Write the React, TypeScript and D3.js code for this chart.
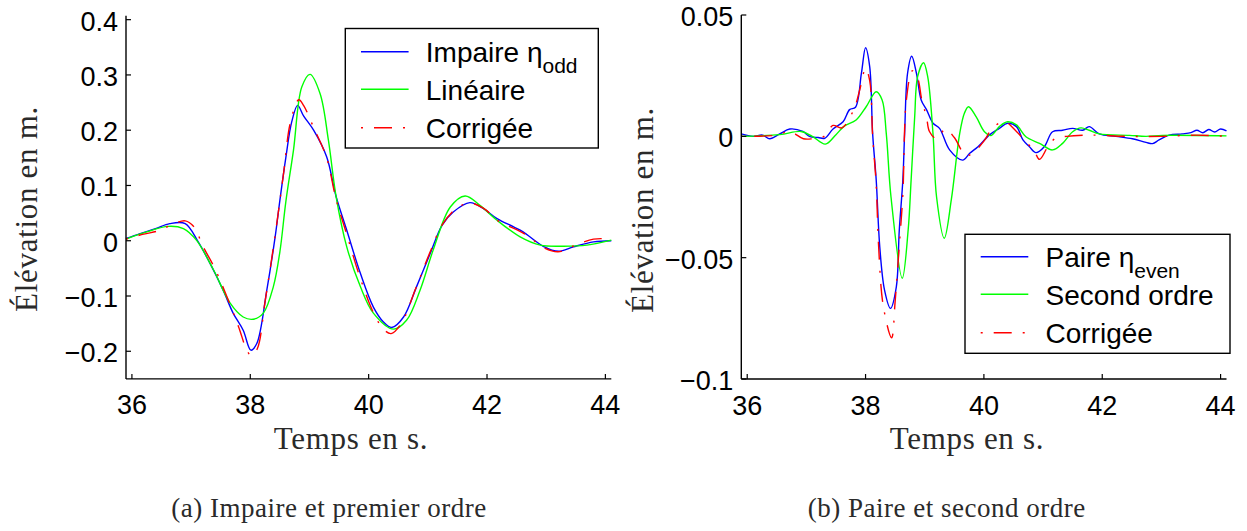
import React from 'react';
import * as d3 from 'd3';

// ---------- shared axis data ----------
const xTicks = [36, 38, 40, 42, 44];
const xDomain: [number, number] = [35.9, 44.1];

// ---------- panel (a) ----------
const leftYTicks = [-0.2, -0.1, 0, 0.1, 0.2, 0.3, 0.4];
const leftYTickLabels = ['−0.2', '−0.1', '0', '0.1', '0.2', '0.3', '0.4'];
const leftYDomain: [number, number] = [-0.25, 0.407];

const impaireOdd: [number, number][] = [
  [35.9, 0.004], [36.14, 0.013], [36.4, 0.022], [36.64, 0.031], [36.9, 0.031], [37.12, -0.002],
  [37.32, -0.041], [37.54, -0.089], [37.71, -0.131], [37.88, -0.162], [38.01, -0.198], [38.11, -0.186],
  [38.28, -0.089], [38.42, 0.007], [38.5, 0.073], [38.6, 0.15], [38.7, 0.215], [38.8, 0.245],
  [38.9, 0.226], [39.07, 0.2], [39.29, 0.152], [39.45, 0.08], [39.63, 0.019], [39.86, -0.059],
  [40.08, -0.12], [40.25, -0.147], [40.39, -0.157], [40.59, -0.138], [40.81, -0.083], [41.04, -0.023],
  [41.24, 0.028], [41.43, 0.052], [41.71, 0.069], [41.94, 0.058], [42.17, 0.04], [42.45, 0.025],
  [42.61, 0.016], [42.95, -0.01], [43.21, -0.019], [43.46, -0.011], [43.8, -0.002], [44.1, 0.0],
];
const lineaire: [number, number][] = [
  [35.9, 0.003], [36.25, 0.016], [36.61, 0.026], [36.87, 0.022], [37.09, 0.001], [37.38, -0.053],
  [37.66, -0.113], [37.88, -0.138], [38.05, -0.142], [38.22, -0.131], [38.39, -0.083], [38.5, -0.02],
  [38.6, 0.07], [38.73, 0.164], [38.87, 0.278], [39.01, 0.301], [39.18, 0.266], [39.32, 0.182],
  [39.45, 0.08], [39.63, -0.011], [39.86, -0.083], [40.08, -0.131], [40.42, -0.16], [40.64, -0.144],
  [40.87, -0.089], [41.09, -0.017], [41.38, 0.061], [41.63, 0.081], [41.88, 0.064], [42.17, 0.037],
  [42.56, 0.007], [42.9, -0.008], [43.29, -0.01], [43.69, -0.008], [44.1, 0.001],
];
const corrigeeOdd: [number, number][] = [
  [35.9, 0.003], [36.2, 0.012], [36.45, 0.018], [36.7, 0.03], [36.9, 0.036], [37.05, 0.025],
  [37.2, -0.01], [37.4, -0.05], [37.6, -0.1], [37.8, -0.155], [37.95, -0.2], [38.02, -0.208],
  [38.12, -0.195], [38.25, -0.11], [38.42, 0.01], [38.56, 0.12], [38.68, 0.215], [38.82, 0.255],
  [38.9, 0.245], [39.07, 0.205], [39.29, 0.15], [39.45, 0.075], [39.62, 0.015], [39.85, -0.065],
  [40.08, -0.13], [40.25, -0.16], [40.38, -0.168], [40.55, -0.15], [40.8, -0.085], [41.04, -0.02],
  [41.25, 0.03], [41.5, 0.06], [41.72, 0.068], [41.95, 0.058], [42.2, 0.035], [42.5, 0.02],
  [42.7, 0.008], [42.95, -0.012], [43.2, -0.02], [43.45, -0.01], [43.8, 0.003], [44.1, 0.003],
];

// ---------- panel (b) ----------
const rightYTicks = [-0.1, -0.05, 0, 0.05];
const rightYTickLabels = ['−0.1', '−0.05', '0', '0.05'];
const rightYDomain: [number, number] = [-0.1, 0.05];

const paireEven: [number, number][] = [
  [35.9, 0.001], [36.1, 0.0], [36.26, 0.0005], [36.38, -0.001], [36.55, 0.001], [36.72, 0.003],
  [36.94, 0.002], [37.05, 0.0], [37.2, -0.0005], [37.31, -0.0008], [37.45, 0.003], [37.62, 0.006],
  [37.73, 0.011], [37.83, 0.012], [37.93, 0.026], [38.0, 0.0365], [38.07, 0.0287], [38.12, 0.001],
  [38.18, -0.018], [38.24, -0.0455], [38.32, -0.0633], [38.42, -0.0709], [38.52, -0.062], [38.57, -0.0386],
  [38.63, -0.018], [38.66, 0.001], [38.71, 0.026], [38.78, 0.033], [38.86, 0.026], [38.94, 0.015],
  [39.03, 0.011], [39.14, 0.0054], [39.25, 0.0033], [39.42, -0.0056], [39.64, -0.0098], [39.76, -0.007],
  [39.9, -0.0043], [40.09, 0.0005], [40.26, 0.0033], [40.4, 0.0054], [40.55, 0.004], [40.66, -0.0015],
  [40.77, -0.0043], [40.88, -0.0067], [41.02, -0.0043], [41.16, 0.0019], [41.33, 0.0025], [41.5, 0.0033],
  [41.67, 0.0025], [41.78, 0.004], [41.95, 0.001], [42.23, 0.0], [42.51, -0.001], [42.74, -0.0025],
  [42.85, -0.003], [42.96, -0.0015], [43.13, 0.0005], [43.35, 0.001], [43.5, 0.0015], [43.6, 0.0025],
  [43.7, 0.0015], [43.8, 0.0028], [43.9, 0.0018], [44.0, 0.003], [44.1, 0.0022],
];
const secondOrdre: [number, number][] = [
  [35.9, 0.0], [36.55, 0.0007], [36.91, 0.002], [37.1, 0.0], [37.32, -0.0032], [37.5, 0.0007],
  [37.64, 0.0042], [37.84, 0.0067], [38.01, 0.0122], [38.18, 0.0184], [38.28, 0.015], [38.35, 0.0012],
  [38.43, -0.025], [38.62, -0.0585], [38.72, -0.0386], [38.77, -0.018], [38.83, 0.008], [38.88, 0.0246],
  [38.98, 0.0303], [39.05, 0.0246], [39.14, 0.001], [39.2, -0.025], [39.33, -0.042], [39.45, -0.026],
  [39.59, 0.001], [39.67, 0.0095], [39.74, 0.0122], [39.87, 0.008], [40.01, 0.0019], [40.12, 0.0003],
  [40.26, 0.004], [40.4, 0.006], [40.55, 0.0047], [40.71, -0.0002], [40.94, -0.0029], [41.16, -0.0056],
  [41.33, -0.0029], [41.5, 0.0019], [41.64, 0.0035], [41.78, 0.0025], [41.95, 0.001], [42.46, 0.0004],
  [42.74, 0.0], [43.02, 0.0004], [44.1, 0.0002],
];
const corrigeeEven: [number, number][] = [
  [35.9, 0.0], [36.5, 0.0005], [36.72, 0.002], [36.95, -0.001], [37.1, -0.001], [37.3, 0.0],
  [37.45, 0.0045], [37.6, 0.0035], [37.8, 0.011], [37.9, 0.019], [38.0, 0.028], [38.07, 0.023],
  [38.12, 0.0], [38.18, -0.02], [38.22, -0.045], [38.3, -0.07], [38.44, -0.083], [38.5, -0.068],
  [38.57, -0.045], [38.63, -0.024], [38.69, 0.015], [38.79, 0.027], [38.88, 0.024], [38.95, 0.015],
  [39.03, 0.008], [39.08, 0.002], [39.2, -0.001], [39.35, 0.003], [39.5, -0.0005], [39.7, -0.008],
  [39.85, -0.006], [40.0, -0.002], [40.15, 0.0035], [40.35, 0.006], [40.55, 0.002], [40.7, -0.002],
  [40.85, -0.006], [40.94, -0.0095], [41.08, -0.0043], [41.2, -0.001], [41.4, 0.0], [41.8, 0.0005],
  [42.4, 0.0], [43.0, 0.0], [43.6, 0.0005], [44.1, 0.0],
];

// ---------- text ----------
const xAxisLabel = 'Temps en s.';
const yAxisLabel = 'Élévation en m.';
const captionA = '(a) Impaire et premier ordre';
const captionB = '(b) Paire et second ordre';
const legendA = [
  { main: 'Impaire η', sub: 'odd' },
  { main: 'Linéaire', sub: '' },
  { main: 'Corrigée', sub: '' },
];
const legendB = [
  { main: 'Paire η', sub: 'even' },
  { main: 'Second ordre', sub: '' },
  { main: 'Corrigée', sub: '' },
];

const SANS = '"Liberation Sans", Arial, Helvetica, sans-serif';
const SERIF = '"Liberation Serif", "Times New Roman", serif';
const BLUE = '#0000ff';
const GREEN = '#00ff00';
const RED = '#ff0000';
const DASHDOT = '2,11,18,11';
const styles = [
  { color: BLUE, dash: undefined as string | undefined },
  { color: GREEN, dash: undefined as string | undefined },
  { color: RED, dash: DASHDOT },
];

type PanelProps = {
  x0: number; x1: number; yTop: number; yBottom: number;
  yDomain: [number, number]; yTicks: number[]; yTickLabels: string[];
  series: [number, number][][];
  legend: { main: string; sub: string }[];
  lx: number; ly: number; lw: number; lh: number; rowOffsets: number[];
  xLabelX: number; yLabelX: number; yLabelY: number;
  caption: string; captionX: number;
};

function Panel(p: PanelProps) {
  const x = d3.scaleLinear().domain(xDomain).range([p.x0, p.x1]);
  const y = d3.scaleLinear().domain(p.yDomain).range([p.yBottom, p.yTop]);
  const line = d3
    .line<[number, number]>()
    .x((d) => x(d[0]))
    .y((d) => y(d[1]))
    .curve(d3.curveCatmullRom.alpha(0.5));
  const tickLen = 5;
  return (
    <g>
      {p.series.map((s, i) => (
        <path
          key={i}
          d={line(s) || ''}
          fill="none"
          stroke={styles[i].color}
          strokeWidth={1.4}
          strokeDasharray={styles[i].dash}
        />
      ))}
      {/* axes */}
      <line x1={p.x0} x2={p.x0} y1={p.yTop} y2={p.yBottom} stroke="#000" strokeWidth={1.4} />
      <line x1={p.x0} x2={p.x1} y1={p.yBottom} y2={p.yBottom} stroke="#000" strokeWidth={1.4} />
      {p.yTicks.map((t, i) => (
        <g key={'y' + i}>
          <line x1={p.x0} x2={p.x0 + tickLen} y1={y(t)} y2={y(t)} stroke="#000" strokeWidth={1.2} />
          <text
            x={p.x0 - 8}
            y={y(t) + 11}
            textAnchor="end"
            fontFamily={SANS}
            fontSize={27}
            fill="#000"
          >
            {p.yTickLabels[i]}
          </text>
        </g>
      ))}
      {xTicks.map((t, i) => (
        <g key={'x' + i}>
          <line x1={x(t)} x2={x(t)} y1={p.yBottom} y2={p.yBottom - tickLen} stroke="#000" strokeWidth={1.2} />
          <text x={x(t)} y={p.yBottom + 35.5} textAnchor="middle" fontFamily={SANS} fontSize={27} fill="#000">
            {t}
          </text>
        </g>
      ))}
      {/* axis labels */}
      <text
        x={p.xLabelX}
        y={448.5}
        textAnchor="middle"
        fontFamily={SERIF}
        fontSize={31}
        letterSpacing={0.7}
        fill="#2a2a2a"
      >
        {xAxisLabel}
      </text>
      <text
        transform={`translate(${p.yLabelX},${p.yLabelY}) rotate(-90)`}
        textAnchor="middle"
        fontFamily={SERIF}
        fontSize={31}
        letterSpacing={0.7}
        fill="#2a2a2a"
      >
        {yAxisLabel}
      </text>
      {/* legend */}
      <rect x={p.lx} y={p.ly} width={p.lw} height={p.lh} fill="#fff" stroke="#000" strokeWidth={1.4} />
      {p.legend.map((e, i) => {
        const ry = p.ly + p.rowOffsets[i];
        return (
          <g key={'l' + i}>
            <line
              x1={p.lx + 15.7}
              x2={p.lx + 63.3}
              y1={ry}
              y2={ry}
              stroke={styles[i].color}
              strokeWidth={1.4}
              strokeDasharray={styles[i].dash}
            />
            <text x={p.lx + 80.5} y={ry + 10.5} fontFamily={SANS} fontSize={28} fill="#000">
              {e.main}
              {e.sub ? (
                <tspan dy={11} fontSize={21}>
                  {e.sub}
                </tspan>
              ) : null}
            </text>
          </g>
        );
      })}
      {/* caption */}
      <text
        x={p.captionX}
        y={517}
        textAnchor="middle"
        fontFamily={SERIF}
        fontSize={27}
        letterSpacing={0.5}
        fill="#2a2a2a"
      >
        {p.caption}
      </text>
    </g>
  );
}

export default function App() {
  return (
    <svg
      width={1247}
      height={531}
      style={{ position: 'absolute', left: 0, top: 0, background: '#fff' }}
    >
      <rect x={0} y={0} width={1247} height={531} fill="#fff" />
      <Panel
        x0={126}
        x1={611.3}
        yTop={15.8}
        yBottom={378.9}
        yDomain={leftYDomain}
        yTicks={leftYTicks}
        yTickLabels={leftYTickLabels}
        series={[impaireOdd, lineaire, corrigeeOdd]}
        legend={legendA}
        lx={345.3}
        ly={28.5}
        lw={253}
        lh={119.5}
        rowOffsets={[23.2, 60.8, 99.2]}
        xLabelX={351}
        yLabelX={37}
        yLabelY={209}
        caption={captionA}
        captionX={329}
      />
      <Panel
        x0={741.3}
        x1={1226.5}
        yTop={15}
        yBottom={379}
        yDomain={rightYDomain}
        yTicks={rightYTicks}
        yTickLabels={rightYTickLabels}
        series={[paireEven, secondOrdre, corrigeeEven]}
        legend={legendB}
        lx={965}
        ly={234.3}
        lw={265}
        lh={119}
        rowOffsets={[22.4, 60, 98.4]}
        xLabelX={967}
        yLabelX={653}
        yLabelY={210}
        caption={captionB}
        captionX={946.7}
      />
    </svg>
  );
}
